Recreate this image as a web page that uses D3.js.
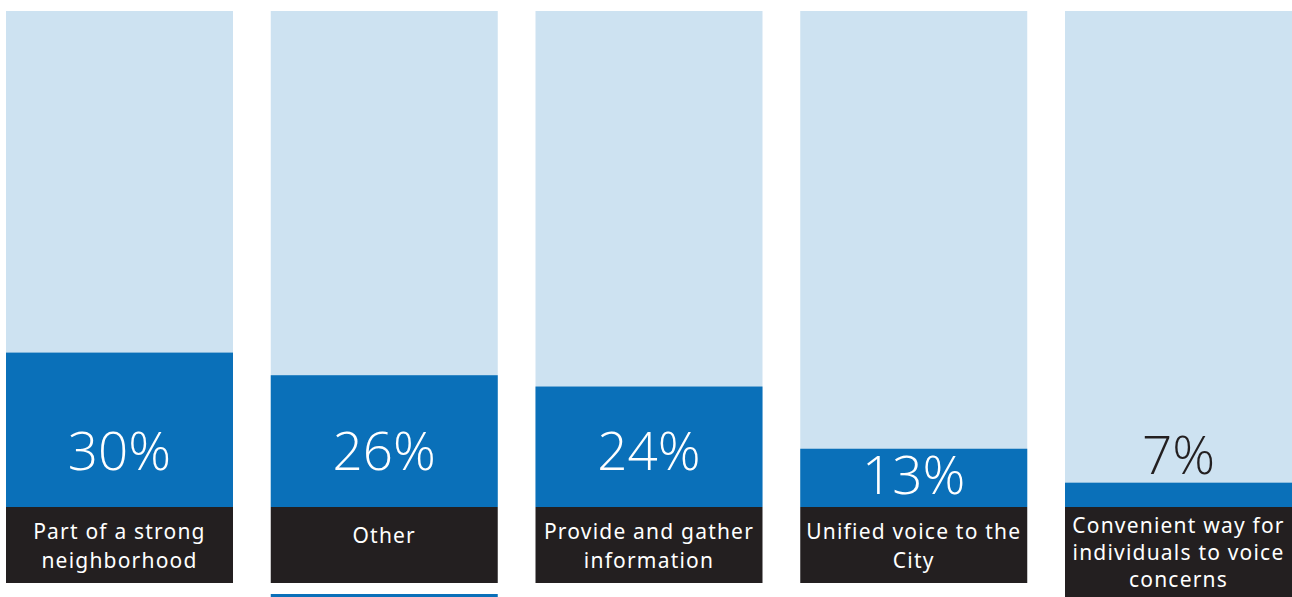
<!DOCTYPE html>
<html>
<head>
<meta charset="utf-8">
<script src="https://cdn.jsdelivr.net/npm/d3@7"></script>
<style>
  body { margin: 0; background: #fff; }
  svg { display: block; }
</style>
</head>
<body>
<script>
var categories = ['Part of a strong neighborhood', 'Other', 'Provide and gather information', 'Unified voice to the City', 'Convenient way for individuals to voice concerns'];
var labelLines = [
  ['Part of a strong', 'neighborhood'],
  ['Other'],
  ['Provide and gather', 'information'],
  ['Unified voice to the', 'City'],
  ['Convenient way for', 'individuals to voice', 'concerns']
];
var values = [30, 26, 24, 13, 7];

var width = 1292;
var height = 597;
var baseY = 507;
var topY = 11;

var lightBlue = '#cde2f1';
var darkBlue = '#0a70b9';
var black = '#231f20';

var svg = d3.select('body')
  .append('svg')
  .attr('width', width)
  .attr('height', height);

var x = d3.scaleBand()
  .domain(categories)
  .range([6, 1292])
  .paddingInner(0.1426)
  .paddingOuter(0);

// bars in the original are not exactly proportional; this domain fits them
var y = d3.scaleLinear()
  .domain([2.7, 90.4])
  .range([baseY, topY]);

var col = svg.selectAll('g.col')
  .data(categories)
  .enter()
  .append('g')
  .attr('class', 'col')
  .attr('transform', function(d) { return 'translate(' + x(d) + ',0)'; });

col.append('rect')
  .attr('x', 0)
  .attr('y', topY)
  .attr('width', x.bandwidth())
  .attr('height', baseY - topY)
  .style('fill', lightBlue);

col.append('rect')
  .attr('x', 0)
  .attr('y', function(d, i) { return y(values[i]); })
  .attr('width', x.bandwidth())
  .attr('height', function(d, i) { return baseY - y(values[i]); })
  .style('fill', darkBlue);

col.append('rect')
  .attr('x', 0)
  .attr('y', baseY)
  .attr('width', x.bandwidth())
  .attr('height', function(d, i) { return labelLines[i].length > 2 ? 90 : 76; })
  .style('fill', black);

var pctY = function(i) {
  var barH = baseY - y(values[i]);
  if (barH > 100) { return 470; }
  if (barH > 40) { return y(values[i]) + 45; }
  return y(values[i]) - 9;
};

col.append('text')
  .attr('x', x.bandwidth() / 2)
  .attr('y', function(d, i) { return pctY(i); })
  .attr('text-anchor', 'middle')
  .style('font-family', '"Open Sans", "Noto Sans", sans-serif')
  .style('font-weight', 300)
  .style('font-size', '53px')
  .style('fill', function(d, i) { return (baseY - y(values[i])) > 40 ? '#fff' : black; })
  .text(function(d, i) { return values[i] + '%'; });

col.each(function(d, i) {
  var lines = labelLines[i];
  var first = lines.length === 1 ? 543 : (lines.length === 2 ? 539 : 533);
  var step = lines.length === 2 ? 29 : 27;
  d3.select(this).selectAll('text.lbl')
    .data(lines)
    .enter()
    .append('text')
    .attr('class', 'lbl')
    .attr('x', x.bandwidth() / 2)
    .attr('y', function(l, j) { return first + j * step; })
    .attr('text-anchor', 'middle')
    .style('font-family', '"Noto Sans", sans-serif')
    .style('font-size', '21px')
    .style('letter-spacing', '1.2px')
    .style('fill', '#fff')
    .text(function(l) { return l; });
});

// stray blue rule under the second column
svg.append('rect')
  .attr('x', x(categories[1]))
  .attr('y', 594)
  .attr('width', x.bandwidth())
  .attr('height', 3)
  .style('fill', darkBlue);
</script>
</body>
</html>
